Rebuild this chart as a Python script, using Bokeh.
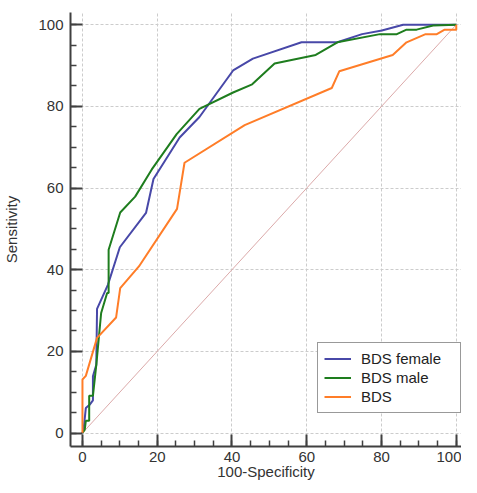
from bokeh.plotting import figure
from bokeh.models import Range1d, SingleIntervalTicker, Legend, LegendItem
from bokeh.embed import file_html
from bokeh.resources import INLINE

# ROC curves: x = 100-Specificity, y = Sensitivity
female_x = [0, 0.3, 0.9, 1.9, 2.8, 2.8, 3.7, 3.9, 6.8, 10.0, 17.0, 19.0, 26.0, 31.3,
            40.3, 45.6, 58.6, 68.2, 74.8, 80.1, 85.8, 100]
female_y = [0, 0.8, 6.1, 6.9, 8.0, 13.9, 16.7, 30.4, 36.3, 45.5, 53.9, 62.2, 72.4, 77.4,
            88.8, 91.7, 95.7, 95.7, 97.7, 98.6, 100, 100]

male_x = [0, 0.6, 0.9, 1.8, 1.8, 2.8, 3.7, 5.0, 6.6, 7.0, 7.0, 10.1, 14.1, 18.5, 25.2,
          31.3, 40.3, 45.4, 51.4, 62.4, 68.2, 79.6, 84.1, 86.7, 89.4, 93.8, 100]
male_y = [0, 0.8, 3.0, 3.0, 9.1, 9.1, 16.7, 29.4, 34.3, 34.3, 44.9, 54.0, 57.9, 64.5, 73.2,
          79.4, 83.4, 85.4, 90.5, 92.6, 95.7, 97.7, 97.7, 98.8, 98.8, 99.8, 100]

bds_x = [0, 0, 0.9, 3.9, 9.0, 10.1, 15.1, 25.3, 27.3, 43.4, 66.7, 68.7, 83.0, 86.7,
         91.8, 94.8, 96.9, 99.8, 100, 100]
bds_y = [0, 13.1, 14.0, 23.3, 28.3, 35.5, 40.8, 54.9, 66.2, 75.4, 84.5, 88.6, 92.6, 95.7,
         97.7, 97.7, 98.8, 98.8, 98.8, 100]

diag = [0, 100]

series_names = ["BDS female", "BDS male", "BDS"]
series_colors = ["#4848a8", "#1e7d1e", "#ff7d28"]
x_title = "100-Specificity"
y_title = "Sensitivity"

FONT = "Liberation Sans"

p = figure(width=461, height=483, output_backend="svg", toolbar_location=None,
           x_range=Range1d(-3.2, 101.4), y_range=Range1d(-3.3, 103.0),
           min_border_left=66, min_border_right=0, min_border_top=12, min_border_bottom=37)
p.outline_line_color = None
p.background_fill_color = "white"

for ax in (p.xaxis[0], p.yaxis[0]):
    ax.ticker = SingleIntervalTicker(interval=20, num_minor_ticks=4)
    ax.axis_line_color = "#404040"
    ax.axis_line_width = 2
    ax.major_tick_line_color = "#404040"
    ax.major_tick_line_width = 2
    ax.major_tick_in = 12
    ax.major_tick_out = 0
    ax.minor_tick_line_color = "#404040"
    ax.minor_tick_line_width = 1.5
    ax.minor_tick_in = 6
    ax.minor_tick_out = 0
    ax.major_label_text_font = FONT
    ax.major_label_text_font_size = "15px"
    ax.major_label_text_color = "#333333"
    ax.axis_label_text_font = FONT
    ax.axis_label_text_font_size = "15px"
    ax.axis_label_text_font_style = "normal"
    ax.axis_label_text_color = "#333333"

p.xaxis[0].axis_label = x_title
p.xaxis[0].major_label_standoff = 5
p.xaxis[0].axis_label_standoff = -2
p.yaxis[0].axis_label = y_title
p.yaxis[0].major_label_standoff = 7
p.yaxis[0].axis_label_standoff = 15

for g in (p.xgrid[0], p.ygrid[0]):
    g.ticker = SingleIntervalTicker(interval=20)
    g.grid_line_color = "#cccccc"
    g.grid_line_width = 1
    g.grid_line_dash = "3 2"

p.line(diag, diag, line_color="#dcaaaa", line_width=1)

r_f = p.line(female_x, female_y, line_color=series_colors[0], line_width=2)
r_m = p.line(male_x, male_y, line_color=series_colors[1], line_width=2)
r_b = p.line(bds_x, bds_y, line_color=series_colors[2], line_width=2)

legend = Legend(items=[LegendItem(label=series_names[0], renderers=[r_f]),
                       LegendItem(label=series_names[1], renderers=[r_m]),
                       LegendItem(label=series_names[2], renderers=[r_b])],
                location=(247, 33))
legend.margin = 0
legend.padding = 6
legend.spacing = 0
legend.glyph_width = 27
legend.glyph_height = 19
legend.label_height = 19
legend.label_width = 93
legend.label_standoff = 10
legend.label_text_font = FONT
legend.label_text_font_size = "15px"
legend.label_text_color = "#222222"
legend.border_line_color = "#333333"
legend.border_line_width = 1.5
legend.background_fill_color = "white"
legend.background_fill_alpha = 1.0
p.add_layout(legend)

open("out.html", "w").write(file_html(p, INLINE))
